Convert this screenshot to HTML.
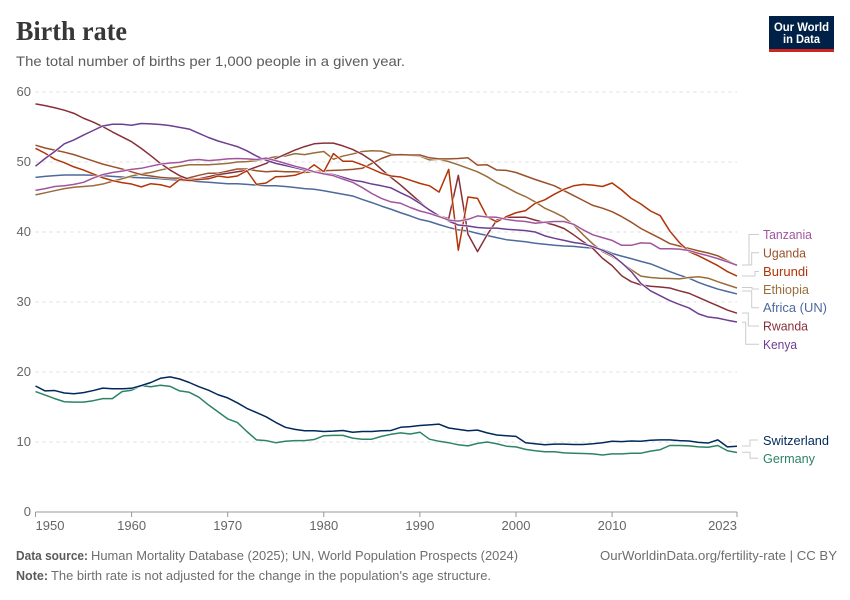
<!DOCTYPE html>
<html lang="en">
<head>
<meta charset="utf-8">
<title>Birth rate</title>
<style>
html,body{margin:0;padding:0;background:#fff}
svg{display:block;font-family:"Liberation Sans",sans-serif}
</style>
</head>
<body>
<svg id="chart" xmlns="http://www.w3.org/2000/svg" width="850" height="600" viewBox="0 0 850 600">
  <rect width="850" height="600" fill="#fff"/>
  <text x="16" y="40" font-family="'Liberation Serif',serif" font-weight="700" font-size="27" fill="#373737" textLength="111" lengthAdjust="spacingAndGlyphs">Birth rate</text>
  <text x="16" y="66" font-size="14" fill="#5b5b5b" textLength="389" lengthAdjust="spacingAndGlyphs">The total number of births per 1,000 people in a given year.</text>

  <g>
    <rect x="769" y="16" width="65" height="36" fill="#002147"/>
    <rect x="769" y="49" width="65" height="3" fill="#ce261e"/>
    <text x="801.5" y="31" text-anchor="middle" font-size="12" font-weight="700" fill="#fff" textLength="55" lengthAdjust="spacingAndGlyphs">Our World</text>
    <text x="801.5" y="43" text-anchor="middle" font-size="12" font-weight="700" fill="#fff" textLength="37" lengthAdjust="spacingAndGlyphs">in Data</text>
  </g>

  <g id="grid"></g>
  <g id="yaxis"></g>
  <g id="xaxis"></g>
  <g id="lines"></g>

  <g fill="none" stroke="#ccc" stroke-width="1">
    <path d="M742 265H749V234.5H759"/>
    <path d="M742 265H751.7V252.7H759"/>
    <path d="M742 276H755V271.5H759"/>
    <path d="M742 287.5H752V289H759"/>
    <path d="M742 291H751.7V307.7H759"/>
    <path d="M742 313H748.3V326H759"/>
    <path d="M742 322.3H745.7V344.3H759"/>
    <path d="M742 446H750V440H758"/>
    <path d="M742 452.3H750V458.3H758"/>
  </g>

  <g font-size="13">
    <text x="763" y="239" fill="#a2559c" textLength="49" lengthAdjust="spacingAndGlyphs">Tanzania</text>
    <text x="763" y="257.5" fill="#9a5129" textLength="43" lengthAdjust="spacingAndGlyphs">Uganda</text>
    <text x="763" y="276" fill="#b13507" textLength="45" lengthAdjust="spacingAndGlyphs">Burundi</text>
    <text x="763" y="294" fill="#996d39" textLength="46" lengthAdjust="spacingAndGlyphs">Ethiopia</text>
    <text x="763" y="312" fill="#4c6a9c" textLength="64" lengthAdjust="spacingAndGlyphs">Africa (UN)</text>
    <text x="763" y="330.5" fill="#883039" textLength="45" lengthAdjust="spacingAndGlyphs">Rwanda</text>
    <text x="763" y="349" fill="#6d3e91" textLength="34" lengthAdjust="spacingAndGlyphs">Kenya</text>
    <text x="763" y="445" fill="#00295b" textLength="66" lengthAdjust="spacingAndGlyphs">Switzerland</text>
    <text x="763" y="463" fill="#2c8465" textLength="52" lengthAdjust="spacingAndGlyphs">Germany</text>
  </g>

  <g font-size="13" fill="#6e6e6e">
    <text x="16" y="560" font-weight="700" fill="#5b5b5b" textLength="72" lengthAdjust="spacingAndGlyphs">Data source:</text>
    <text x="91" y="560" textLength="427" lengthAdjust="spacingAndGlyphs">Human Mortality Database (2025); UN, World Population Prospects (2024)</text>
    <text x="16" y="580" font-weight="700" fill="#5b5b5b" textLength="32" lengthAdjust="spacingAndGlyphs">Note:</text>
    <text x="51" y="580" textLength="440" lengthAdjust="spacingAndGlyphs">The birth rate is not adjusted for the change in the population's age structure.</text>
    <text x="600" y="560" textLength="237" lengthAdjust="spacingAndGlyphs">OurWorldinData.org/fertility-rate | CC BY</text>
  </g>
</svg>

<script>
const startYear = 1950;
const endYear = 2023;
const yTicks = [0, 10, 20, 30, 40, 50, 60];
const xTicks = [1950, 1960, 1970, 1980, 1990, 2000, 2010, 2023];

const switzerland = [18.0,17.3,17.35,17.0,16.9,17.05,17.35,17.7,17.6,17.6,17.67,18.05,18.5,19.1,19.3,19.0,18.5,17.9,17.4,16.75,16.3,15.6,14.8,14.2,13.6,12.8,12.1,11.8,11.6,11.6,11.5,11.55,11.65,11.4,11.5,11.5,11.6,11.65,12.1,12.2,12.35,12.45,12.55,12.0,11.8,11.6,11.7,11.3,11.0,10.9,10.8,9.9,9.75,9.6,9.7,9.7,9.65,9.65,9.75,9.9,10.1,10.05,10.15,10.1,10.25,10.3,10.3,10.2,10.15,9.95,9.85,10.3,9.3,9.4];
const germany = [17.2,16.7,16.2,15.75,15.7,15.7,15.9,16.2,16.2,17.2,17.4,18.05,17.9,18.1,17.95,17.3,17.1,16.4,15.3,14.3,13.3,12.8,11.5,10.3,10.2,9.9,10.1,10.2,10.2,10.35,10.9,10.95,10.95,10.55,10.4,10.4,10.8,11.1,11.3,11.15,11.4,10.4,10.1,9.9,9.6,9.45,9.8,10.0,9.75,9.4,9.3,8.95,8.75,8.6,8.6,8.45,8.4,8.35,8.3,8.15,8.3,8.3,8.4,8.4,8.7,8.9,9.5,9.5,9.45,9.3,9.25,9.5,8.75,8.5];
const africa = [47.8,47.95,48.05,48.15,48.15,48.15,48.1,48.05,47.95,47.85,47.8,47.75,47.7,47.6,47.5,47.4,47.3,47.2,47.1,47.0,46.9,46.9,46.8,46.7,46.6,46.6,46.5,46.35,46.2,46.1,45.9,45.65,45.4,45.15,44.65,44.2,43.7,43.25,42.75,42.3,41.8,41.5,41.05,40.65,40.3,40.15,39.8,39.5,39.2,38.9,38.75,38.6,38.4,38.25,38.1,38.0,37.95,37.8,37.7,37.5,36.95,36.55,36.2,35.8,35.45,34.9,34.35,33.85,33.4,32.8,32.3,31.85,31.5,31.15];
const ethiopia = [45.3,45.6,45.9,46.2,46.4,46.5,46.6,46.85,47.25,47.6,48.0,48.3,48.5,48.85,49.15,49.4,49.6,49.6,49.6,49.7,49.8,50.0,50.05,50.2,50.5,50.75,50.85,51.2,51.05,51.3,51.5,50.4,50.85,51.15,51.5,51.6,51.55,51.15,51.05,50.95,50.85,50.3,50.4,50.05,49.6,49.1,48.6,47.9,47.05,46.4,45.65,45.05,44.3,43.4,42.8,42.1,41.0,39.6,38.3,37.2,36.5,35.6,34.6,33.7,33.5,33.4,33.35,33.3,33.5,33.6,33.4,32.9,32.45,32.0];
const uganda = [52.4,52.0,51.7,51.4,51.05,50.6,50.15,49.7,49.35,49.0,48.6,48.2,48.0,47.8,47.7,47.7,47.75,48.1,48.4,48.4,48.7,49.0,49.0,48.75,48.6,48.7,48.6,48.6,48.5,48.6,48.75,48.8,48.85,48.95,49.1,49.8,50.5,51.0,51.05,51.0,51.0,50.6,50.45,50.45,50.5,50.6,49.55,49.6,48.85,48.8,48.5,48.0,47.5,47.05,46.6,45.9,45.2,44.5,43.8,43.4,42.9,42.2,41.4,40.5,39.8,39.1,38.35,38.0,37.65,37.3,37.0,36.6,35.9,35.25];
const rwanda = [58.3,58.05,57.75,57.4,56.95,56.25,55.7,55.05,54.3,53.6,52.9,51.95,50.9,49.8,48.85,48.05,47.5,47.6,47.9,48.2,48.4,48.6,48.8,49.3,49.8,50.5,51.1,51.7,52.2,52.6,52.7,52.7,52.3,51.8,51.1,50.2,48.95,47.8,46.7,45.5,44.3,43.1,42.3,41.9,48.1,39.7,37.2,39.6,41.7,42.1,42.1,42.1,41.7,41.35,41.0,40.5,39.6,38.6,37.65,36.25,35.2,33.75,32.9,32.45,32.25,32.15,32.0,31.6,31.25,30.65,30.05,29.45,28.85,28.4];
const burundi = [51.95,51.25,50.4,49.9,49.3,48.85,48.3,47.75,47.35,47.05,46.85,46.45,46.9,46.75,46.4,47.5,47.35,47.5,47.6,48.0,47.8,48.0,48.75,46.8,47.0,47.9,47.95,48.1,48.6,49.6,48.6,51.2,50.1,50.1,49.6,49.0,48.4,48.0,47.85,47.4,46.95,46.6,45.7,48.95,37.4,45.0,44.8,42.15,41.45,42.2,42.75,43.05,44.1,44.6,45.4,46.1,46.6,46.8,46.7,46.5,47.0,46.0,44.8,44.0,43.0,42.35,40.15,38.5,37.2,36.6,35.9,35.2,34.35,33.7];
const kenya = [49.4,50.5,51.5,52.6,53.15,53.85,54.5,55.15,55.4,55.4,55.25,55.5,55.45,55.35,55.2,54.95,54.7,54.1,53.5,53.0,52.6,52.2,51.6,50.85,50.25,49.8,49.5,49.2,48.85,48.6,48.4,48.2,47.8,47.4,47.2,46.85,46.6,46.3,45.6,44.95,44.1,43.15,42.3,41.55,41.0,40.85,40.65,40.55,40.55,40.4,40.3,40.2,40.0,39.45,39.1,38.8,38.5,38.3,37.9,37.4,36.7,35.6,34.35,32.65,31.6,30.9,30.2,29.65,29.15,28.3,27.85,27.7,27.4,27.15];
const tanzania = [45.95,46.2,46.5,46.6,46.8,47.1,47.7,48.2,48.5,48.7,48.95,49.1,49.4,49.7,49.85,49.95,50.25,50.35,50.2,50.3,50.45,50.5,50.45,50.35,50.55,50.2,49.8,49.4,49.05,48.6,48.3,48.05,47.55,47.1,46.35,45.5,44.8,44.3,44.1,43.5,43.0,42.65,42.2,41.7,41.55,41.8,42.3,42.15,42.1,41.8,41.6,41.5,41.25,41.4,41.5,41.5,41.1,40.3,39.6,39.2,38.8,38.1,38.1,38.45,38.4,37.6,37.6,37.55,37.35,36.95,36.6,36.2,35.75,35.25];

const NS = 'http://www.w3.org/2000/svg';
const plotLeft = 35.5, plotRight = 737, plotBottom = 512, plotTop = 92;
const yMax = yTicks[yTicks.length - 1];
function xScale(year) { return plotLeft + (year - startYear) / (endYear - startYear) * (plotRight - plotLeft); }
function yScale(value) { return plotBottom - value / yMax * (plotBottom - plotTop); }

const grid = document.getElementById('grid');
const yaxis = document.getElementById('yaxis');
const xaxis = document.getElementById('xaxis');
const linesGroup = document.getElementById('lines');

yTicks.forEach(function (t) {
  const label = document.createElementNS(NS, 'text');
  
  
  label.setAttribute('x', 31);
  label.setAttribute('y', yScale(t) + 4);
  label.setAttribute('text-anchor', 'end');
  label.setAttribute('font-size', '13');
  label.setAttribute('fill', '#666');
  label.textContent = t;
  yaxis.appendChild(label);
  if (t === 0) return;
  const line = document.createElementNS(NS, 'line');
  
  
  line.setAttribute('x1', plotLeft);
  line.setAttribute('x2', plotRight);
  line.setAttribute('y1', yScale(t));
  line.setAttribute('y2', yScale(t));
  line.setAttribute('stroke', '#ddd');
  line.setAttribute('stroke-dasharray', '3,4');
  grid.appendChild(line);
});

const axisLine = document.createElementNS(NS, 'line');


axisLine.setAttribute('x1', plotLeft);
axisLine.setAttribute('x2', plotRight);
axisLine.setAttribute('y1', plotBottom);
axisLine.setAttribute('y2', plotBottom);
axisLine.setAttribute('stroke', '#999');
xaxis.appendChild(axisLine);

xTicks.forEach(function (t, i) {
  const tick = document.createElementNS(NS, 'line');
  
  
  tick.setAttribute('x1', xScale(t));
  tick.setAttribute('x2', xScale(t));
  tick.setAttribute('y1', plotBottom);
  tick.setAttribute('y2', plotBottom + 5);
  tick.setAttribute('stroke', '#999');
  xaxis.appendChild(tick);
  const label = document.createElementNS(NS, 'text');
  
  
  label.setAttribute('x', xScale(t));
  label.setAttribute('y', 530);
  label.setAttribute('text-anchor', i === 0 ? 'start' : (i === xTicks.length - 1 ? 'end' : 'middle'));
  label.setAttribute('font-size', '13');
  label.setAttribute('fill', '#666');
  label.textContent = t;
  xaxis.appendChild(label);
});

function drawSeries(name, values, color) {
  const d = values.map(function (v, i) {
    return (i ? 'L' : 'M') + xScale(startYear + i).toFixed(2) + ' ' + yScale(v).toFixed(2);
  }).join('');
  const halo = document.createElementNS(NS, 'path');
  
  
  halo.setAttribute('d', d);
  halo.setAttribute('fill', 'none');
  halo.setAttribute('stroke', '#fff');
  halo.setAttribute('stroke-width', '2.5');
  linesGroup.appendChild(halo);
  const path = document.createElementNS(NS, 'path');
  
  
  path.setAttribute('d', d);
  path.setAttribute('fill', 'none');
  path.setAttribute('stroke', color);
  path.setAttribute('stroke-width', '1.5');
  path.setAttribute('stroke-linejoin', 'round');
  linesGroup.appendChild(path);
}

drawSeries('germany', germany, '#2c8465');
drawSeries('switzerland', switzerland, '#00295b');
drawSeries('africa', africa, '#4c6a9c');
drawSeries('ethiopia', ethiopia, '#996d39');
drawSeries('uganda', uganda, '#9a5129');
drawSeries('rwanda', rwanda, '#883039');
drawSeries('burundi', burundi, '#b13507');
drawSeries('kenya', kenya, '#6d3e91');
drawSeries('tanzania', tanzania, '#a2559c');
</script>
</body>
</html>
